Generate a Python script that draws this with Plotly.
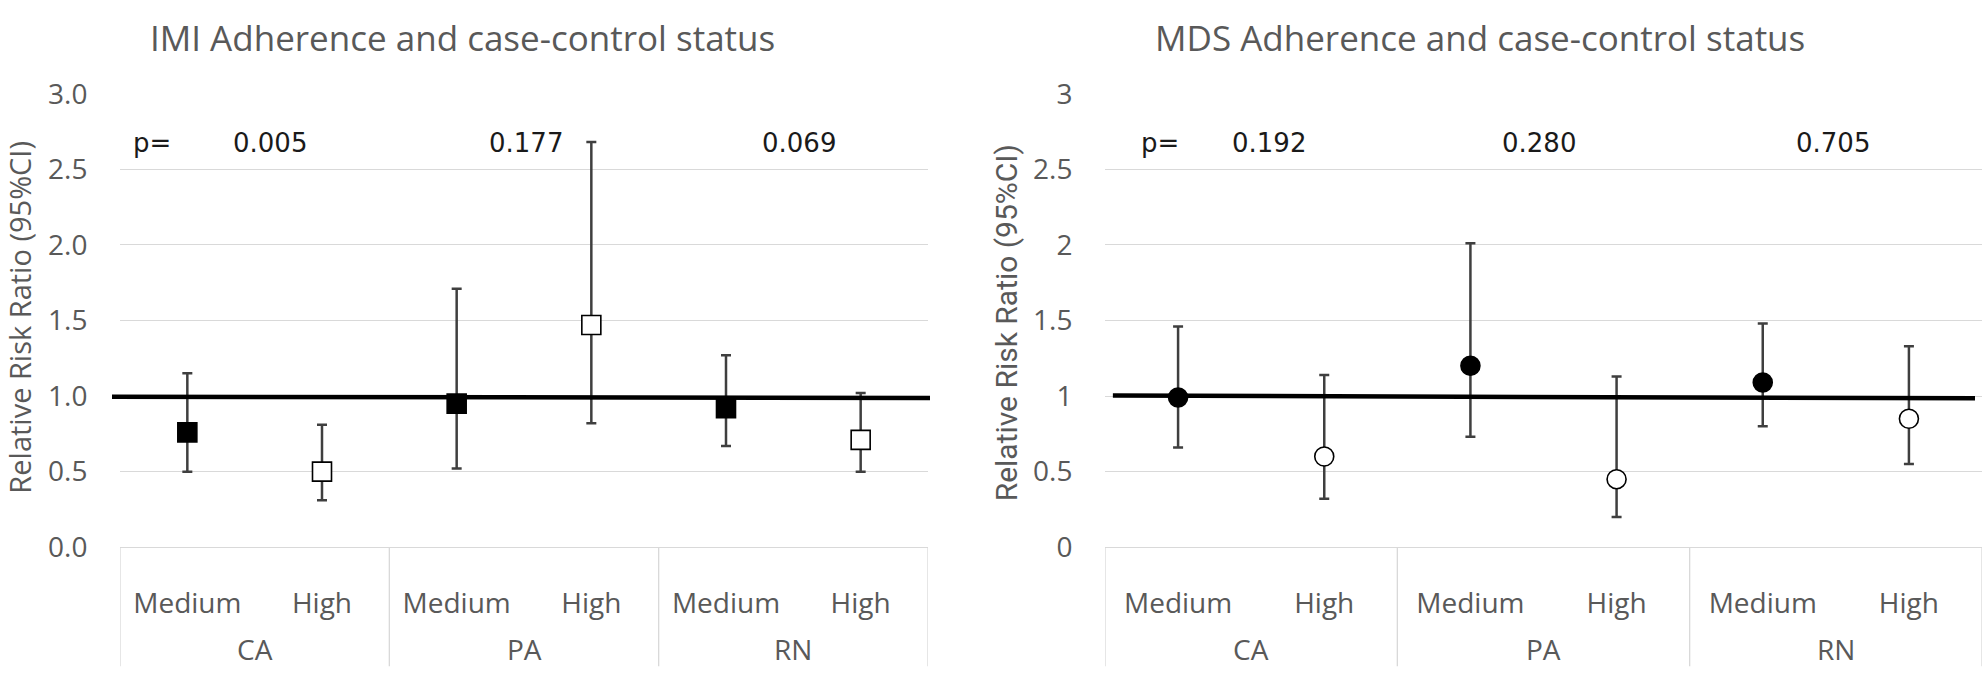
import plotly.graph_objects as go

# ---------------- data ----------------
groups = ["CA", "CA", "PA", "PA", "RN", "RN"]
levels = ["Medium", "High", "Medium", "High", "Medium", "High"]

imi_rr = [0.76, 0.50, 0.95, 1.47, 0.92, 0.71]
imi_lo = [0.50, 0.31, 0.52, 0.82, 0.67, 0.50]
imi_hi = [1.15, 0.81, 1.71, 2.68, 1.27, 1.02]

mds_rr = [0.99, 0.60, 1.20, 0.45, 1.09, 0.85]
mds_lo = [0.66, 0.32, 0.73, 0.20, 0.80, 0.55]
mds_hi = [1.46, 1.14, 2.01, 1.13, 1.48, 1.33]

imi_p = ["0.005", "0.177", "0.069"]
mds_p = ["0.192", "0.280", "0.705"]
titles = ["IMI Adherence and case-control status", "MDS Adherence and case-control status"]
ytitle = "Relative Risk Ratio (95%CI)"
reference_rr = 1.0

W, H = 1985, 689
GRAY = "#595959"
GRID = "#d9d9d9"
TICKFONT = dict(family="Open Sans", size=28, color=GRAY)


def px_x(p):
    return p / W


def px_y(p):
    return 1 - p / H


idx = list(range(len(levels)))
group_names = []
for g in groups:
    if g not in group_names:
        group_names.append(g)
group_centers = [sum(i for i, g in zip(idx, groups) if g == name) /
                 groups.count(name) for name in group_names]
boundaries = [-0.5] + [i + 0.5 for i in idx[:-1] if groups[i] != groups[i + 1]] + [idx[-1] + 0.5]

fill = ["black" if lv == "Medium" else "white" for lv in levels]

fig = go.Figure()

for i, (rr, lo, hi, sym) in enumerate([(imi_rr, imi_lo, imi_hi, "square"),
                                        (mds_rr, mds_lo, mds_hi, "circle")]):
    fig.add_trace(go.Scatter(
        x=idx, y=rr,
        mode="markers",
        marker=dict(symbol=sym, size=19, color=fill,
                    line=dict(color="black", width=1.6)),
        error_y=dict(type="data", symmetric=False,
                     array=[h - r for h, r in zip(hi, rr)],
                     arrayminus=[r - l for r, l in zip(rr, lo)],
                     color="#3f3f3f", thickness=2.5, width=5),
        xaxis="x" if i == 0 else "x2",
        yaxis="y" if i == 0 else "y2",
        showlegend=False,
        cliponaxis=False,
    ))

xcommon = dict(range=[-0.5, len(idx) - 0.5], tickvals=idx, ticktext=levels,
               showline=True, linecolor=GRID, linewidth=1.3,
               showgrid=False, zeroline=False, tickfont=TICKFONT, ticks="outside",
               ticklen=31, tickcolor="rgba(0,0,0,0)")
ycommon = dict(range=[0, 3], dtick=0.5, showgrid=True, gridcolor=GRID,
               gridwidth=1.3, zeroline=False, showline=False,
               ticks="outside", ticklen=26, tickcolor="rgba(0,0,0,0)",
               tickfont=TICKFONT)

fig.update_layout(
    width=W, height=H,
    margin=dict(l=0, r=0, t=0, b=0),
    paper_bgcolor="white", plot_bgcolor="white",
    xaxis=dict(domain=[px_x(120), px_x(928)], anchor="y", **xcommon),
    xaxis2=dict(domain=[px_x(1105), px_x(1982)], anchor="y2", **xcommon),
    yaxis=dict(domain=[px_y(558), px_y(78)], anchor="x", tickformat=".1f", **ycommon),
    yaxis2=dict(domain=[px_y(558), px_y(78)], anchor="x2", **ycommon),
)

# category box dividers and group labels
for xr in ["x", "x2"]:
    for b in boundaries:
        fig.add_shape(type="line", xref=xr, yref="paper", x0=b, x1=b,
                      y0=px_y(684), y1=px_y(558), line=dict(color=GRID, width=1.3))
    for name, c in zip(group_names, group_centers):
        fig.add_annotation(text=name, xref=xr, yref="paper", x=c, y=px_y(666),
                           xanchor="center", yanchor="middle", showarrow=False,
                           font=TICKFONT)

# reference line at RR = 1
fig.add_shape(type="line", xref="x domain", yref="y", x0=-0.0099, x1=1.0025,
              y0=reference_rr - 0.004, y1=reference_rr - 0.013,
              line=dict(color="black", width=4.5))
fig.add_shape(type="line", xref="x2 domain", yref="y2", x0=0.009, x1=0.992,
              y0=reference_rr + 0.003, y1=reference_rr - 0.015,
              line=dict(color="black", width=4.5))

# titles
for t, cx in zip(titles, [462, 1480]):
    fig.add_annotation(text=t, xref="paper", yref="paper", x=px_x(cx), y=px_y(18.5),
                       xanchor="center", yanchor="middle", showarrow=False,
                       font=dict(family="Open Sans", size=35, color=GRAY))

# y-axis titles
fig.add_annotation(text=ytitle, xref="paper", yref="paper", x=px_x(20), y=px_y(315),
                   textangle=-90, xanchor="center", yanchor="middle", showarrow=False,
                   font=dict(family="Open Sans", size=29, color=GRAY))
fig.add_annotation(text=ytitle, xref="paper", yref="paper", x=px_x(1006), y=px_y(320),
                   textangle=-90, xanchor="center", yanchor="middle", showarrow=False,
                   font=dict(family="Roboto", size=30, color=GRAY))

# p-values
PFONT = dict(family="DejaVu Sans", size=26, color="#1a1a1a")
for xr, yr, ps, ppos, pxs in [("x domain", "y", imi_p, 0.039, [0.1856, 0.5025, 0.840]),
                              ("x2 domain", "y2", mds_p, 0.0627, [0.187, 0.495, 0.830])]:
    fig.add_annotation(text="p=", xref=xr, yref=yr, x=ppos, y=2.672, showarrow=False,
                       xanchor="center", yanchor="middle", font=PFONT)
    for txt, xx in zip(ps, pxs):
        fig.add_annotation(text=txt, xref=xr, yref=yr, x=xx, y=2.672, showarrow=False,
                           xanchor="center", yanchor="middle", font=PFONT)

fig.write_html("out.html")
